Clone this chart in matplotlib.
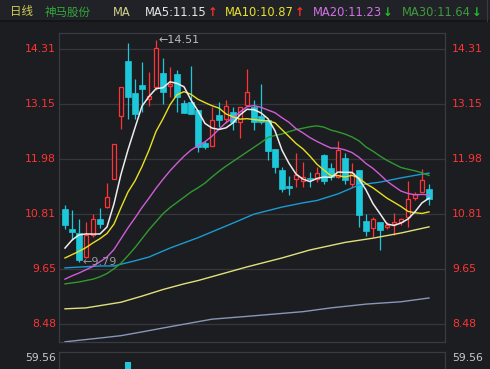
import matplotlib
matplotlib.use('Agg')
import matplotlib.pyplot as plt
import numpy as np
import pandas as pd
from matplotlib.patches import Rectangle
from matplotlib.lines import Line2D

plt.rcParams['font.family'] = ['DejaVu Sans', 'Noto Sans CJK SC']

# ---------------- data ----------------
opens = [10.92, 10.50, 10.41, 9.90, 10.37, 10.71, 10.96, 11.56, 12.89, 14.06,
         13.38, 13.55, 13.25, 13.51, 13.81, 13.53, 13.79, 13.17, 13.19, 13.02,
         12.32, 12.26, 12.92, 12.83, 12.98, 12.77, 13.13, 13.09, 12.89, 12.81,
         12.19, 11.75, 11.41, 11.56, 11.51, 11.58, 11.56, 12.07, 11.79, 11.60,
         12.00, 11.45, 11.75, 10.66, 10.52, 10.64, 10.54, 10.60, 10.64, 10.75,
         11.15, 11.28, 11.34]
highs = [11.00, 10.90, 10.71, 10.64, 10.81, 10.94, 11.47, 12.30, 13.51, 14.44,
         13.68, 14.04, 13.83, 14.51, 14.13, 13.93, 13.87, 13.23, 13.96, 13.02,
         12.36, 13.09, 13.19, 13.23, 13.09, 13.09, 13.89, 13.23, 13.57, 12.81,
         12.19, 11.81, 11.62, 12.11, 11.92, 11.70, 11.81, 12.09, 11.90, 12.36,
         12.11, 11.90, 11.75, 10.81, 10.75, 10.64, 10.64, 10.83, 10.73, 11.51,
         11.28, 11.77, 11.45]
lows = [10.50, 10.26, 9.79, 9.88, 10.33, 10.52, 10.94, 11.56, 12.62, 12.83,
        12.83, 12.98, 13.11, 13.45, 13.15, 13.30, 12.98, 12.96, 12.94, 12.13,
        12.19, 12.26, 12.66, 12.75, 12.60, 12.43, 13.11, 12.60, 12.72, 11.96,
        11.68, 11.28, 11.21, 11.39, 11.39, 11.39, 11.49, 11.45, 11.53, 11.58,
        11.45, 11.39, 10.54, 10.35, 10.33, 10.05, 10.50, 10.37, 10.58, 10.54,
        11.11, 11.28, 11.00]
closes = [10.58, 10.43, 9.84, 10.37, 10.71, 10.60, 11.17, 12.30, 13.51, 13.30,
          12.94, 13.47, 13.32, 14.34, 13.40, 13.57, 13.30, 12.96, 12.94, 12.24,
          12.24, 12.81, 12.81, 13.11, 12.77, 13.09, 13.40, 12.77, 12.77, 12.15,
          11.81, 11.34, 11.37, 11.64, 11.60, 11.56, 11.68, 11.51, 11.60, 12.17,
          11.53, 11.68, 10.79, 10.45, 10.71, 10.47, 10.58, 10.64, 10.71, 11.13,
          11.24, 11.53, 11.13]

ma5_early = [10.09, 10.26, 10.37, 10.39]
ma10_early = [9.88, 9.95, 10.02, 10.10, 10.20, 10.29, 10.40, 10.60, 10.95]
ma20_early = [9.43, 9.50, 9.56, 9.63, 9.70, 9.80, 9.90, 10.06, 10.29, 10.52,
              10.73, 10.95, 11.15, 11.36, 11.55, 11.73, 11.89, 12.04, 12.17]
ma30_early = [9.33, 9.35, 9.37, 9.40, 9.43, 9.48, 9.55, 9.65, 9.77, 9.93,
              10.10, 10.29, 10.48, 10.65, 10.82, 10.95, 11.06, 11.17, 11.28, 11.37,
              11.47, 11.60, 11.72, 11.83, 11.93, 12.03, 12.13, 12.23, 12.33]
ma60_idx = [0, 5, 7, 10, 12, 15, 19, 24, 27, 31, 34, 36, 39, 42, 45, 48, 51, 52]
ma60_val = [9.67, 9.71, 9.71, 9.82, 9.90, 10.09, 10.31, 10.62, 10.81, 10.96,
            11.05, 11.10, 11.24, 11.43, 11.49, 11.58, 11.66, 11.68]
ma120_idx = [0, 3, 8, 11, 14, 17, 19, 26, 31, 35, 40, 44, 48, 52]
ma120_val = [8.80, 8.82, 8.94, 9.07, 9.21, 9.33, 9.40, 9.69, 9.88, 10.05,
             10.21, 10.30, 10.41, 10.54]
ma250_idx = [0, 5, 8, 11, 15, 21, 26, 34, 38, 43, 48, 52]
ma250_val = [8.10, 8.18, 8.23, 8.31, 8.42, 8.58, 8.64, 8.74, 8.82, 8.90, 8.95, 9.03]

price_ticks = [14.31, 13.15, 11.98, 10.81, 9.65, 8.48]
price_tick_labels = ['14.31', '13.15', '11.98', '10.81', '9.65', '8.48']
volume_max_label = '59.56'
volume_visible = {9: 57.0}

header_items = [
    ('日线', 10, '#cfcf55'),
    ('神马股份', 45, '#33a83a'),
    ('MA', 113, '#d2d28a'),
    ('MA5:11.15', 145, '#e6e6e6'),
    ('MA10:10.87', 225, '#e6e22a'),
    ('MA20:11.23', 313, '#d272e6'),
    ('MA30:11.64', 402, '#3c9c3c'),
]
header_arrows = [('↑', 208, '#ff2a2a'), ('↑', 295, '#ff2a2a'),
                 ('↓', 383, '#22c02a'), ('↓', 472, '#22c02a')]

# ---------------- style ----------------
BG = '#1c1d21'
HEADER_BG = '#212227'
GRID = '#36373c'
SPINE = '#3a3b41'
RED = '#ff3434'
CYAN = '#1cc8da'
W, H = 490, 369

fig = plt.figure(figsize=(W / 100, H / 100), dpi=100, facecolor=BG)
fig.patches.append(Rectangle((0, 1 - 20 / H), 1, 20 / H, transform=fig.transFigure,
                             facecolor=HEADER_BG, edgecolor='none', zorder=0))
fig.lines.append(Line2D([0, 1], [1 - 21 / H, 1 - 21 / H], transform=fig.transFigure,
                        color='#131417', lw=1.2))
fig.lines.append(Line2D([487 / W, 487 / W], [1 - 21 / H, 1], transform=fig.transFigure,
                        color='#3a3b41', lw=0.8))

for txt, xp, col in header_items:
    fig.text(xp / W, 1 - 12 / H, txt, color=col, fontsize=8.3, ha='left', va='center')
for txt, xp, col in header_arrows:
    fig.text(xp / W, 1 - 12 / H, txt, color=col, fontsize=8.3, ha='left', va='center',
             fontweight='bold')

left_px, right_px, top_px, bot_px = 59, 445, 33, 342
ax = fig.add_axes([left_px / W, (H - bot_px) / H, (right_px - left_px) / W,
                   (bot_px - top_px) / H])
ax.set_facecolor(BG)
ax.set_xlim(-6 / 7, 380 / 7)
ax.set_ylim(8.0956, 14.656)
for s in ax.spines.values():
    s.set_color(SPINE)
    s.set_linewidth(0.9)
ax.set_xticks([])
ax.set_yticks([])
for v in price_ticks:
    ax.axhline(v, color=GRID, lw=0.9, zorder=0)

yt = ax.get_yaxis_transform()
for v, lab in zip(price_ticks, price_tick_labels):
    ax.text(-0.008, v, lab, transform=yt, ha='right', va='center', color=RED,
            fontsize=7.8, clip_on=False)
    ax.text(1.018, v, lab, transform=yt, ha='left', va='center', color=RED,
            fontsize=7.8, clip_on=False)

# ---------------- candles ----------------
o = np.array(opens); h = np.array(highs); l = np.array(lows); c = np.array(closes)
x = np.arange(len(c))
up = c >= o
ax.vlines(x[up], l[up], h[up], color=RED, lw=0.9, zorder=3)
ax.vlines(x[~up], l[~up], h[~up], color=CYAN, lw=0.9, zorder=3)
ax.bar(x[up], np.abs(c - o)[up], bottom=np.minimum(o, c)[up], width=0.6,
       facecolor=BG, edgecolor=RED, lw=0.9, zorder=4)
ax.bar(x[~up], np.abs(c - o)[~up], bottom=np.minimum(o, c)[~up], width=0.72,
       facecolor=CYAN, edgecolor=CYAN, lw=0.5, zorder=4)

# ---------------- moving averages ----------------
cs = pd.Series(closes)
def ma_full(n, early):
    vals = cs.rolling(n).mean().to_numpy()
    vals[:len(early)] = early
    return vals

ax.plot(ma250_idx, ma250_val, color='#8797b6', lw=1.0, zorder=5)
ax.plot(ma120_idx, ma120_val, color='#e2e07c', lw=1.0, zorder=5)
ax.plot(ma60_idx, ma60_val, color='#1a9ad2', lw=1.0, zorder=5)
ax.plot(x, ma_full(30, ma30_early), color='#2f9a2f', lw=1.0, zorder=5)
ax.plot(x, ma_full(20, ma20_early), color='#d05cd8', lw=1.0, zorder=5)
ax.plot(x, ma_full(10, ma10_early), color='#e8e020', lw=1.0, zorder=5)
ax.plot(x, ma_full(5, ma5_early), color='#ececec', lw=1.1, zorder=6)

# high / low markers
hi_i = int(np.argmax(h)); lo_i = int(np.argmin(l))
ax.text(hi_i + 0.3, h[hi_i], '←' + f'{h[hi_i]:.2f}', color='#bdbdbd', fontsize=8,
        ha='left', va='center', zorder=7)
ax.text(lo_i + 0.45, l[lo_i], '←' + f'{l[lo_i]:.2f}', color='#9a9a9a', fontsize=8,
        ha='left', va='center', zorder=7)

# ---------------- volume panel (only its top is visible) ----------------
vtop = 352
vax = fig.add_axes([left_px / W, (H - (vtop + 100)) / H, (right_px - left_px) / W, 100 / H])
vax.set_facecolor(BG)
vax.set_xlim(-6 / 7, 380 / 7)
vax.set_ylim(0, 63.36)
for s in vax.spines.values():
    s.set_color(SPINE)
    s.set_linewidth(0.9)
vax.set_xticks([]); vax.set_yticks([])
vx = list(volume_visible.keys()); vy = list(volume_visible.values())
vax.bar(vx, vy, width=0.72, color=CYAN)
vyt = vax.get_yaxis_transform()
vax.text(-0.008, 59.56, volume_max_label, transform=vyt, ha='right', va='center',
         color='#c8c8c8', fontsize=7.8, clip_on=False)
vax.text(1.018, 59.56, volume_max_label, transform=vyt, ha='left', va='center',
         color='#c8c8c8', fontsize=7.8, clip_on=False)

fig.savefig('out.png', dpi=100, facecolor=BG)
